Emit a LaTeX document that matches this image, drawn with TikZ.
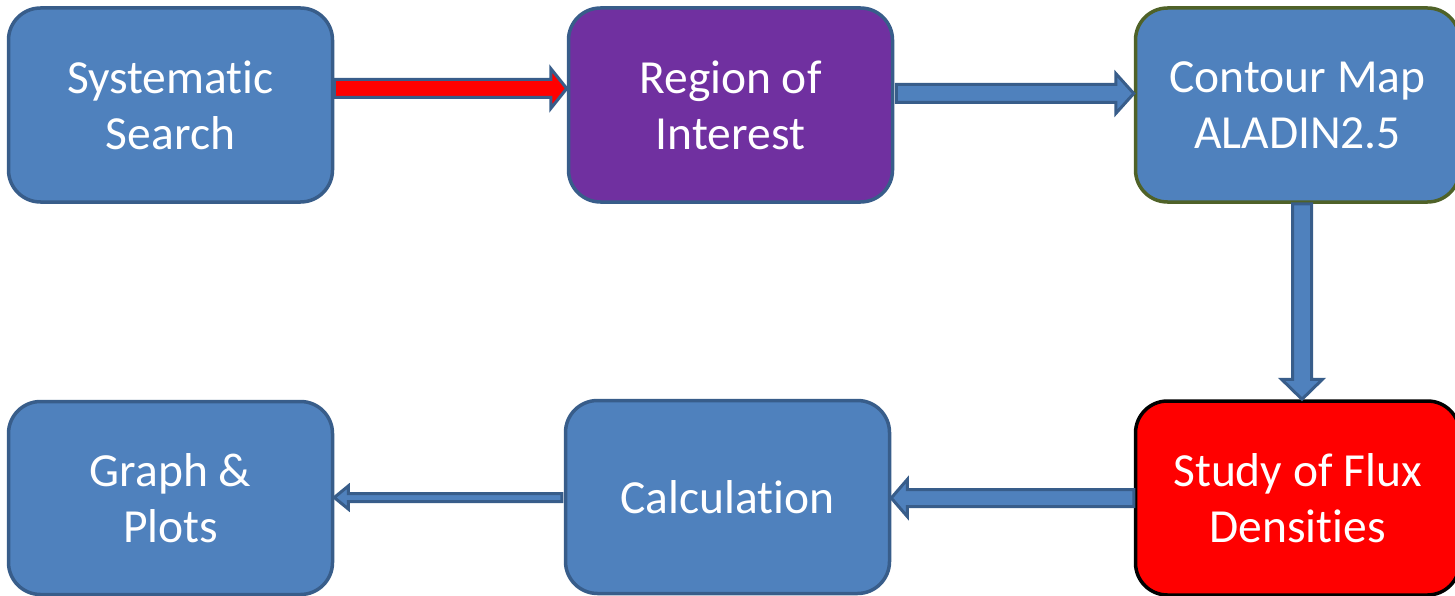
\documentclass[tikz,border=0pt]{standalone}
\usepackage{fontspec}
\setmainfont{Carlito}[Ligatures=NoCommon]
\usetikzlibrary{calc}
\definecolor{boxblue}{HTML}{4F81BD}
\definecolor{edgeblue}{HTML}{385D8A}
\definecolor{roipurple}{HTML}{7030A0}
\definecolor{olive}{HTML}{4F6228}
\tikzset{
  box/.style={rectangle, rounded corners=32pt, minimum width=324pt, minimum height=194pt,
    line width=3.5pt, draw=edgeblue, fill=boxblue, text=white, align=center,
    font=\fontsize{47.5}{56}\selectfont, inner sep=0pt},
  barrow/.style={draw=edgeblue, line width=3pt, fill=boxblue, line join=miter},
}
\begin{document}
\begin{tikzpicture}[x=1pt,y=-1pt]
\useasboundingbox (0,0) rectangle (1455,596);
\node[box] (s1) at (170.5,105) {Systematic\\Search};
\node[box, fill=roipurple] (s2) at (730.5,105) {Region of\\Interest};
\node[box, draw=olive] (s3) at (1297.5,105) {Contour Map\\ALADIN2.5};
\node[box, fill=red, draw=black] (s6) at (1297.5,498) {Study of Flux\\Densities};
\node[box, minimum height=193pt] (s5) at (727.5,497) {Calculation};
\node[box, minimum height=193pt] (s4) at (170.5,498) {Graph \&\\Plots};
% arrow 1: s1 -> s2 (red)
\draw[barrow, fill=red] let \p1=($(s1.east)+(0,-16.5)$), \p2=($(s2.west)+(0,-16.5)$) in
  (\x1,\y1+9pt) -- (\x2-16pt,\y1+9pt) -- (\x2-16pt,\y1+20pt) -- (\x2,\y1)
  -- (\x2-16pt,\y1-20pt) -- (\x2-16pt,\y1-9pt) -- (\x1,\y1-9pt) -- cycle;
% arrow 2: s2 -> s3
\draw[barrow] let \p1=($(s2.east)+(2,-11.5)$), \p2=($(s3.west)+(0,-11.5)$) in
  (\x1,\y1+9pt) -- (\x2-18pt,\y1+9pt) -- (\x2-18pt,\y1+20pt) -- (\x2,\y1)
  -- (\x2-18pt,\y1-20pt) -- (\x2-18pt,\y1-9pt) -- (\x1,\y1-9pt) -- cycle;
% arrow 3: s3 -> s6 (down)
\draw[barrow] let \p1=($(s3.south)+(4.5,0)$), \p2=($(s6.north)+(4.5,0)$) in
  (\x1-9.5pt,\y1) -- (\x1-9.5pt,\y2+20pt) -- (\x1-20.5pt,\y2+20pt) -- (\x1,\y2)
  -- (\x1+20.5pt,\y2+20pt) -- (\x1+9.5pt,\y2+20pt) -- (\x1+9.5pt,\y1) -- cycle;
% arrow 4: s6 -> s5 (left)
\draw[barrow] let \p1=($(s6.west)+(0,0)$), \p2=($(s5.east)+(0,0)$) in
  (\x1,\y1+8.5pt) -- (\x2+16pt,\y1+8.5pt) -- (\x2+16pt,\y1+18.5pt) -- (\x2,\y1)
  -- (\x2+16pt,\y1-18.5pt) -- (\x2+16pt,\y1-8.5pt) -- (\x1,\y1-8.5pt) -- cycle;
% arrow 5: s5 -> s4 (left, thinner)
\draw[barrow] let \p1=($(s5.west)+(-2,0.5)$), \p2=($(s4.east)+(0,0.5)$) in
  (\x1,\y1+4pt) -- (\x2+14pt,\y1+4pt) -- (\x2+14pt,\y1+11.5pt) -- (\x2,\y1)
  -- (\x2+14pt,\y1-11.5pt) -- (\x2+14pt,\y1-4pt) -- (\x1,\y1-4pt) -- cycle;
\end{tikzpicture}
\end{document}
